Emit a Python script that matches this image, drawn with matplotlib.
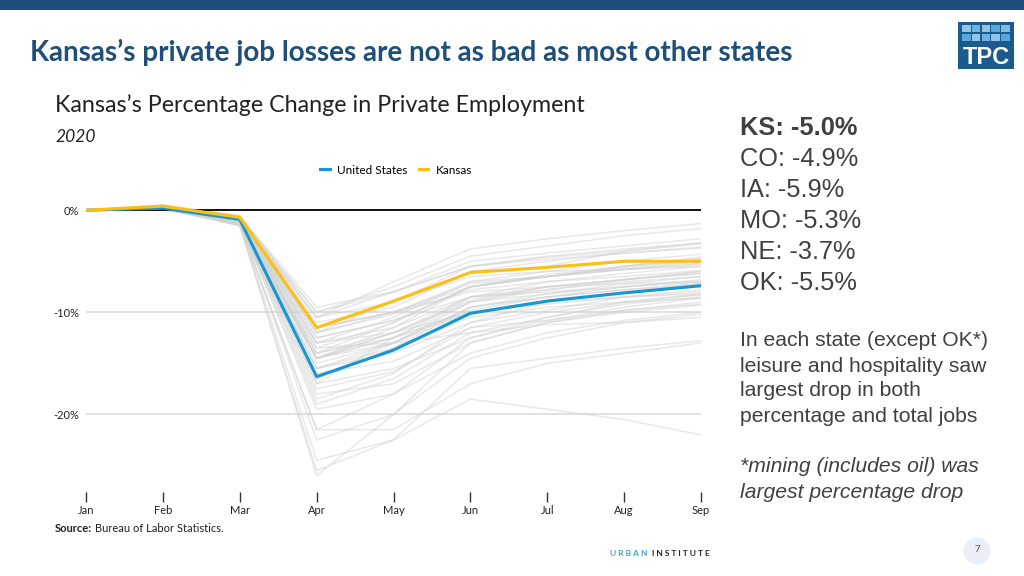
import matplotlib
matplotlib.use("Agg")
import matplotlib.pyplot as plt
from matplotlib.patches import Rectangle, Ellipse

# data (percent change in private employment since Jan 2020)
months = ["Jan", "Feb", "Mar", "Apr", "May", "Jun", "Jul", "Aug", "Sep"]
us_vals = [0, 0.2, -0.9, -16.3, -13.7, -10.1, -8.9, -8.1, -7.4]
ks_vals = [0, 0.4, -0.7, -11.5, -8.9, -6.1, -5.6, -5.0, -5.0]

state_abbr = ["AL", "AK", "AZ", "AR", "CA", "CO", "CT", "DE", "DC", "FL",
              "GA", "HI", "ID", "IL", "IN", "IA", "KY", "LA", "ME", "MD",
              "MA", "MI", "MN", "MS", "MO", "MT", "NE", "NV", "NH", "NJ",
              "NM", "NY", "NC", "ND", "OH", "OK", "OR", "PA", "RI", "SC",
              "SD", "TN", "TX", "UT", "VT", "VA", "WA", "WV", "WI", "WY"]
state_vals = [
    [0, 0.2, -0.9, -12.0, -10.0, -7.5, -6.3, -5.5, -4.6],
    [0, 0.1, -1.0, -14.5, -12.5, -10.0, -9.0, -8.5, -8.2],
    [0, 0.3, -0.8, -11.0, -9.5, -6.0, -5.5, -4.0, -3.2],
    [0, 0.2, -0.9, -10.5, -8.0, -5.5, -4.6, -4.0, -3.3],
    [0, 0.2, -1.2, -16.0, -14.8, -11.5, -10.8, -9.8, -9.0],
    [0, 0.3, -1.0, -12.5, -10.8, -7.5, -6.5, -5.6, -4.9],
    [0, 0.1, -1.1, -17.0, -15.5, -12.5, -10.8, -9.5, -8.6],
    [0, 0.2, -1.5, -17.5, -15.8, -11.5, -10.0, -9.0, -8.3],
    [0, 0.2, -1.0, -13.5, -13.0, -12.0, -11.2, -11.0, -10.5],
    [0, 0.3, -1.2, -14.5, -12.0, -8.5, -7.8, -7.0, -6.5],
    [0, 0.2, -0.8, -13.0, -10.5, -7.0, -6.0, -5.0, -4.3],
    [0, 0.1, -1.3, -24.5, -22.5, -18.5, -19.5, -20.5, -22.0],
    [0, 0.5, -0.5, -10.5, -7.0, -3.8, -2.8, -2.0, -1.3],
    [0, 0.1, -1.0, -15.5, -14.0, -11.0, -9.8, -8.5, -7.8],
    [0, 0.2, -1.2, -16.5, -13.0, -9.0, -7.8, -6.8, -6.0],
    [0, 0.2, -0.9, -12.0, -10.2, -7.8, -7.0, -6.5, -5.9],
    [0, 0.3, -1.4, -17.0, -12.5, -8.5, -7.0, -6.2, -5.5],
    [0, 0.2, -1.1, -15.5, -13.5, -10.5, -9.5, -9.0, -8.6],
    [0, 0.3, -0.9, -14.5, -12.5, -9.0, -7.5, -6.8, -6.0],
    [0, 0.2, -1.0, -14.0, -12.5, -9.8, -8.5, -7.8, -7.2],
    [0, 0.2, -1.3, -19.5, -18.0, -14.0, -12.0, -10.8, -10.0],
    [0, 0.3, -1.5, -26.0, -20.0, -13.0, -11.0, -9.8, -9.2],
    [0, 0.2, -1.0, -14.5, -13.0, -10.0, -8.8, -8.0, -7.4],
    [0, 0.1, -0.8, -11.5, -9.0, -6.0, -5.0, -4.2, -3.6],
    [0, 0.2, -0.9, -11.5, -10.0, -7.2, -6.5, -5.8, -5.3],
    [0, 0.4, -0.8, -12.0, -9.0, -5.5, -4.5, -3.8, -3.2],
    [0, 0.3, -0.6, -9.5, -8.0, -5.5, -4.8, -4.2, -3.7],
    [0, 0.3, -1.5, -25.5, -22.5, -15.5, -14.5, -13.5, -12.8],
    [0, 0.2, -1.1, -18.5, -16.0, -11.0, -9.0, -8.0, -7.2],
    [0, 0.1, -1.2, -18.0, -17.0, -13.0, -11.0, -10.0, -9.3],
    [0, 0.2, -1.0, -13.0, -12.0, -10.0, -9.2, -8.5, -8.0],
    [0, 0.1, -1.5, -21.5, -21.5, -17.0, -15.0, -14.0, -13.0],
    [0, 0.3, -0.9, -13.5, -11.0, -7.5, -6.5, -5.8, -5.0],
    [0, 0.2, -0.8, -12.5, -10.8, -8.5, -8.0, -7.5, -7.0],
    [0, 0.2, -1.2, -16.5, -13.5, -9.5, -8.2, -7.2, -6.5],
    [0, 0.3, -0.8, -10.5, -9.0, -6.5, -6.0, -5.8, -5.5],
    [0, 0.2, -1.0, -15.0, -13.0, -9.5, -8.5, -7.8, -7.2],
    [0, 0.1, -1.3, -19.0, -16.5, -12.0, -10.5, -9.2, -8.5],
    [0, 0.2, -1.4, -21.5, -18.0, -12.5, -10.5, -9.0, -8.2],
    [0, 0.3, -1.0, -14.5, -11.5, -7.5, -6.5, -5.5, -4.8],
    [0, 0.3, -0.7, -10.0, -8.0, -5.0, -4.2, -3.5, -2.8],
    [0, 0.3, -1.0, -14.0, -11.0, -7.5, -6.5, -5.5, -4.7],
    [0, 0.3, -0.9, -11.5, -10.0, -7.0, -6.5, -5.8, -5.2],
    [0, 0.5, -0.6, -10.0, -7.5, -4.5, -3.5, -2.5, -1.8],
    [0, 0.1, -1.2, -22.5, -20.0, -14.5, -12.5, -11.0, -10.2],
    [0, 0.2, -0.9, -13.0, -11.5, -8.5, -7.5, -6.8, -6.2],
    [0, 0.3, -1.0, -15.5, -13.0, -9.5, -8.5, -7.5, -6.8],
    [0, 0.2, -1.1, -14.5, -12.0, -9.0, -8.2, -7.5, -7.0],
    [0, 0.2, -1.0, -14.0, -12.0, -8.8, -7.5, -6.8, -6.2],
    [0, 0.3, -0.9, -11.5, -10.0, -8.0, -7.5, -7.2, -7.0],
]

side_stats = ["CO: -4.9%", "IA: -5.9%", "MO: -5.3%", "NE: -3.7%", "OK: -5.5%"]

BLUE = "#1696d2"
YELLOW = "#fdbf11"
NAVY = "#1c4f7e"
TEXT = "#404040"

W, H = 1024, 576
fig = plt.figure(figsize=(W / 100, H / 100), dpi=100)


def fx(x):
    return x / W


def fy(y):
    return 1 - y / H


# top band and slide title
fig.add_artist(Rectangle((0, fy(10)), 1, 10 / H, transform=fig.transFigure,
                         color=NAVY, lw=0))
fig.text(fx(30), fy(52), "Kansas\u2019s private job losses are not as bad as most other states",
         fontsize=20, fontweight="bold", color="#1f4e79", va="center",
         family="Lato")

# TPC logo
logo = fig.add_axes([fx(958), fy(69), fx(56), 47 / H])
logo.set_xlim(0, 56)
logo.set_ylim(47, 0)
logo.axis("off")
logo.add_patch(Rectangle((0, 0), 56, 47, color="#1b5a8c", lw=0))
sq_cols = [["#8ec6e8", "#6fb4e0", "#8ec6e8", "#5aa6d8", "#7dbde4"],
           ["#5aa6d8", "#8ec6e8", "#6fb4e0", "#8ec6e8", "#5aa6d8"]]
for r in range(2):
    for c in range(5):
        logo.add_patch(Rectangle((4 + c * 9.8, 3 + r * 8.5), 8.6, 7.4,
                                 color=sq_cols[r][c], lw=0))
logo.text(28, 35, "TPC", color="white", fontsize=17, fontweight="bold",
          ha="center", va="center", family="Liberation Sans")

# chart titles
fig.text(fx(55), fy(105), "Kansas\u2019s Percentage Change in Private Employment",
         fontsize=16.75, family="Lato", color="#222222", va="center")
fig.text(fx(55), fy(137), "2020", fontsize=12.5, family="Lato", style="italic",
         color="#222222", va="center")

# main chart
ax = fig.add_axes([fx(86), fy(492), fx(701 - 86), 292 / H])
x = list(range(len(months)))
for vals in state_vals:
    ax.plot(x, vals, color="#d2d2d2", lw=1.1, alpha=0.5, zorder=2)
ax.axhline(0, color="#111111", lw=1.4, zorder=3)
for g in (-10, -20):
    ax.axhline(g, color="#dcdcdc", lw=1.2, zorder=1)
us_line, = ax.plot(x, us_vals, color=BLUE, lw=2.2, zorder=5, label="United States")
ks_line, = ax.plot(x, ks_vals, color=YELLOW, lw=2.2, zorder=6, label="Kansas")

ax.set_xlim(0, 8)
ax.set_ylim(-27.6, 1.0)
ax.set_xticks(x)
ax.set_xticklabels(months, family="Lato", fontsize=8, color="#222222")
ax.set_yticks([0, -10, -20])
ax.set_yticklabels(["0%", "-10%", "-20%"], family="Lato", fontsize=8, color="#222222")
ax.tick_params(axis="y", length=0, pad=5)
ax.tick_params(axis="x", length=7, width=1, color="#333333", pad=2)
for s in ax.spines.values():
    s.set_visible(False)
ax.set_facecolor("none")

fig.legend(handles=[us_line, ks_line], loc="center",
           bbox_to_anchor=(fx(396), fy(170)), ncol=2, frameon=False,
           handlelength=0.8, handletextpad=0.6, columnspacing=1.0,
           prop={"family": "Lato", "size": 8.5})

fig.text(fx(55), fy(528), "Source:", fontsize=8, family="Lato", fontweight="bold",
         color="#222222", va="center")
fig.text(fx(95), fy(528), "Bureau of Labor Statistics.", fontsize=8, family="Lato",
         color="#222222", va="center")

# right-hand notes
fig.text(fx(740), fy(128), "KS: -5.0%", fontsize=18.3, fontweight="bold",
         color=TEXT, va="center", family="Liberation Sans")
for i, s in enumerate(side_stats):
    fig.text(fx(740), fy(159 + i * 31), s, fontsize=18.3, color=TEXT,
             va="center", family="Liberation Sans")

para = ["In each state (except OK*)", "leisure and hospitality saw",
        "largest drop in both", "percentage and total jobs"]
for i, s in enumerate(para):
    fig.text(fx(740), fy(341 + i * 25), s, fontsize=15.2, color=TEXT,
             va="center", family="Liberation Sans")
for i, s in enumerate(["*mining (includes oil) was", "largest percentage drop"]):
    fig.text(fx(740), fy(467 + i * 26), s, fontsize=15.2, color=TEXT, style="italic",
             va="center", family="Liberation Sans")

# footer
fig.text(fx(610), fy(554), "U R B A N", fontsize=6, color="#4aa3d0",
         va="center", family="Lato", fontweight="bold")
fig.text(fx(652), fy(554), "I N S T I T U T E", fontsize=6, color="#222222",
         va="center", family="Lato", fontweight="bold")
fig.add_artist(Ellipse((fx(977), fy(551)), 27 / W, 27 / H, transform=fig.transFigure,
                       color="#e9eff4", lw=0))
fig.text(fx(977), fy(550), "7", fontsize=7, color="#555555", ha="center",
         va="center", family="Lato")

fig.savefig("out.png", dpi=100)
